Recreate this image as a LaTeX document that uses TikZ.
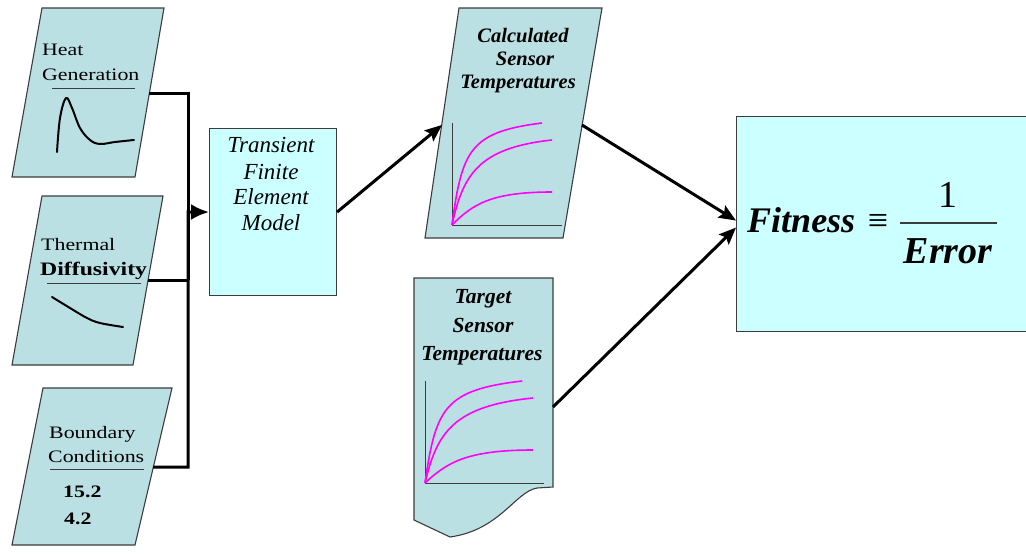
\documentclass[tikz,border=0pt]{standalone}
\usepackage{fontspec}
\setmainfont{Liberation Serif}
\newfontfamily\wideserif[FakeStretch=1.25]{Liberation Serif}
\usetikzlibrary{arrows.meta,calc}
\definecolor{parafill}{RGB}{186,224,228}
\definecolor{boxfill}{RGB}{204,255,255}
\definecolor{edgec}{RGB}{60,60,60}
\definecolor{curvec}{RGB}{255,0,255}
\begin{document}
\begin{tikzpicture}[x=1pt,y=-1pt,
  shapeb/.style={draw=edgec,line width=1.1pt,fill=parafill},
  boxb/.style={draw=edgec,line width=1.1pt,fill=boxfill,inner sep=0pt,anchor=north west},
  conn/.style={line width=3pt},
  arr/.style={conn,-{Stealth[length=17pt,width=14pt,inset=3pt]}},
  lbl/.style={anchor=base west,inner sep=0pt,font=\wideserif\fontsize{17.5}{20}\selectfont},
  lblb/.style={anchor=base west,inner sep=0pt,font=\wideserif\bfseries\fontsize{17.5}{20}\selectfont},
  femtxt/.style={anchor=base,inner sep=0pt,font=\itshape\fontsize{23}{26}\selectfont},
  calctxt/.style={anchor=base,inner sep=0pt,font=\bfseries\itshape\fontsize{20.5}{24}\selectfont},
  tgttxt/.style={anchor=base,inner sep=0pt,font=\bfseries\itshape\fontsize{21.5}{24}\selectfont},
  uline/.style={draw=edgec,line width=1pt},
  hand/.style={line width=2pt,line cap=round,line join=round},
  chart/.pic={
    \draw[edgec,line width=0.8pt] (0,-102) -- (0,0) -- (110,0);
    \draw[curvec,line width=1.6pt] (0,0) .. controls (10,-75) and (18,-93) .. (90,-102);
    \draw[curvec,line width=1.6pt] (0,0) .. controls (11,-50) and (26,-77) .. (100,-85);
    \draw[curvec,line width=1.6pt] (0,0) .. controls (20,-20) and (38,-33) .. (100,-33);
  }
]
\useasboundingbox (0,0) rectangle (1026,554);

% ---------- input parallelograms ----------
\draw[shapeb] (42,8) -- (164,8) -- (135,177) -- (12,177) -- cycle;
\node[lbl] (heat1) at (42,55) {Heat};
\node[lbl] (heat2) at (42,80) {Generation};
\draw[uline] (52,88) -- (135,88);
\draw[hand] plot[smooth,tension=0.6] coordinates {(57,152) (60,118) (66,98) (72,108) (80,128) (90,140) (100,144) (115,142) (134,140)};
\coordinate (heatOut) at (149,93);

\draw[shapeb] (42,196) -- (163,196) -- (133,365) -- (12,365) -- cycle;
\node[lbl] (therm1) at (41,250) {Thermal};
\node[anchor=base west,inner sep=0pt,font=\wideserif\bfseries\fontsize{19}{22}\selectfont] (therm2) at (40,275) {Diffusivity};
\draw[uline] (47,283) -- (141,283);
\draw[hand] plot[smooth,tension=0.6] coordinates {(52,297) (70,308) (87,318) (100,323) (123,327)};
\coordinate (thermOut) at (148,280);

\draw[shapeb] (43,388) -- (172,388) -- (135,545) -- (12,545) -- cycle;
\node[lbl] (bc1) at (49,438) {Boundary};
\node[lbl] (bc2) at (48,462) {Conditions};
\draw[uline] (50,469) -- (144,469);
\node[lblb] (bc3) at (63,497) {15.2};
\node[lblb] (bc4) at (64,524) {4.2};
\coordinate (bcOut) at (153,467);

% ---------- FEM box ----------
\node[boxb,minimum width=127pt,minimum height=167pt] (fem) at (209,128) {};
\foreach \t/\y [count=\i] in {Transient/152,Finite/179,Element/204,Model/230}
  \node[femtxt] (femt\i) at (271,\y) {\t};

% ---------- bus ----------
\coordinate (bus) at (188,212);
\coordinate (junc) at (188,280);
\draw[conn] (heatOut) -| (junc);
\draw[conn] (thermOut) -- (junc);
\draw[conn,-{Latex[length=18pt,width=16pt]}] (bcOut) -| (bus) -- (fem.west);

% ---------- calculated sensor temperatures ----------
\draw[shapeb] (459,8) -- (602,8) -- (563,238) -- (425,238) -- cycle;
\node[calctxt] (calc1) at (523,42) {Calculated};
\node[calctxt] (calc2) at (525,65) {Sensor};
\node[calctxt] (calc3) at (518,88) {Temperatures};
\pic at (452,225) {chart};
\coordinate (calcIn) at (442,125);
\coordinate (calcOut) at (582,125);

% ---------- target sensor temperatures ----------
\draw[shapeb] (414,278) -- (553,278) -- (553,487) -- (537,488) .. controls (515,492) and (500,530) .. (450,537) -- (414,520) -- cycle;
\node[tgttxt] (tgt1) at (483,303) {Target};
\node[tgttxt] (tgt2) at (483,332) {Sensor};
\node[tgttxt] (tgt3) at (482,360) {Temperatures};
\pic[xscale=1.08] at (425,483) {chart};
\coordinate (tgtOut) at (553,407);

% ---------- fitness box ----------
\node[boxb,minimum width=300pt,minimum height=215pt] (fit) at (736,116) {};
\node[anchor=base west,inner sep=0pt,font=\bfseries\itshape\fontsize{36}{40}\selectfont] (fitT) at (747,232) {Fitness};
\node[inner sep=0pt,font=\fontsize{36}{40}\selectfont] (eqv) at (878,223) {≡};
\node[anchor=base,inner sep=0pt,font=\fontsize{38}{40}\selectfont] (one) at (948,207) {1};
\draw[edgec,line width=1.6pt] (900,223) -- (997,223);
\node[anchor=base,inner sep=0pt,font=\bfseries\itshape\fontsize{38}{40}\selectfont] (err) at (948,263) {Error};

% ---------- arrows ----------
\draw[arr] (fem.east) -- (calcIn);
\draw[arr] (calcOut) -- ([yshift=3.5pt]fit.west);
\draw[arr] (tgtOut) -- ([yshift=-3.5pt]fit.west);
\end{tikzpicture}
\end{document}
